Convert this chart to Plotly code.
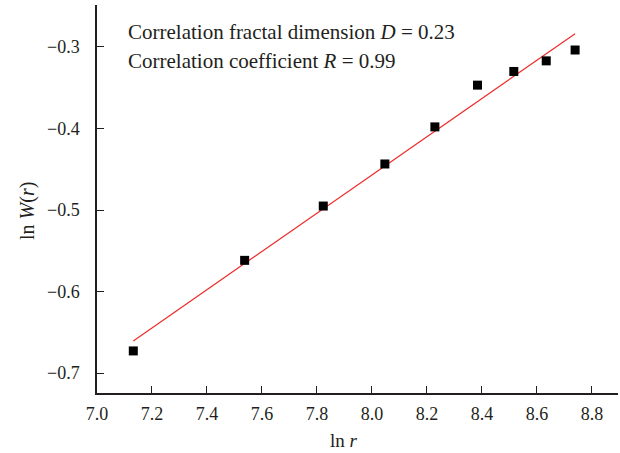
import numpy as np
import plotly.graph_objects as go

# ln r and ln W(r) samples
ln_r = [7.132, 7.537, 7.823, 8.047, 8.229, 8.384, 8.516, 8.634, 8.739]
ln_w = [-0.6728, -0.5617, -0.4951, -0.4435, -0.398, -0.3468, -0.330, -0.317, -0.3037]

x_ticks = [7.0, 7.2, 7.4, 7.6, 7.8, 8.0, 8.2, 8.4, 8.6, 8.8]
y_ticks = [-0.7, -0.6, -0.5, -0.4, -0.3]

# least-squares line through the samples
slope, intercept = np.polyfit(ln_r, ln_w, 1)
fit_x = [ln_r[0], ln_r[-1]]
fit_y = [slope * v + intercept for v in fit_x]

FONT = "Liberation Serif"
AX_COLOR = "#231f20"

fig = go.Figure()
fig.add_trace(go.Scatter(
    x=fit_x, y=fit_y, mode="lines",
    line=dict(color="#ee2b2b", width=1.2),
    showlegend=False, hoverinfo="skip",
))
fig.add_trace(go.Scatter(
    x=ln_r, y=ln_w, mode="markers",
    marker=dict(symbol="square", size=9, color="black"),
    showlegend=False,
))

axis_common = dict(
    showgrid=False, zeroline=False, showline=True,
    linecolor=AX_COLOR, linewidth=1.5,
    ticks="inside", ticklen=7, tickwidth=1.3, tickcolor=AX_COLOR,
    tickfont=dict(family=FONT, size=18, color=AX_COLOR),
)
fig.update_xaxes(
    range=[7.0, 8.895], tickvals=x_ticks,
    ticktext=[f"{v:.1f}" for v in x_ticks], ticklabelstandoff=4, **axis_common,
)
fig.update_yaxes(
    range=[-0.7244, -0.2485], tickvals=y_ticks,
    ticktext=[f"\u2212{abs(v):.1f}" for v in y_ticks], ticklabelstandoff=12,
    **axis_common,
)

annots = [
    dict(text="Correlation fractal dimension <i>D</i> = 0.23",
         x=126, y=453 - 32, xanchor="left", yanchor="middle", size=21),
    dict(text="Correlation coefficient <i>R</i> = 0.99",
         x=126, y=453 - 61, xanchor="left", yanchor="middle", size=21),
    dict(text="ln <i>r</i>", x=344, y=453 - 440, xanchor="center",
         yanchor="middle", size=19),
    dict(text="ln <i>W</i>(<i>r</i>)", x=27, y=453 - 211, xanchor="center",
         yanchor="middle", textangle=-90, size=20),
]
for a in annots:
    fig.add_annotation(
        xref="paper", yref="paper", showarrow=False,
        font=dict(family=FONT, size=a["size"], color=AX_COLOR),
        **{k: v for k, v in a.items() if k not in ("x", "y", "size")},
        x=(a["x"] - 97) / (618 - 97), y=(a["y"] - 60) / (448 - 60),
    )

fig.update_layout(
    width=620, height=453,
    margin=dict(l=97, r=2, t=5, b=60),
    paper_bgcolor="white", plot_bgcolor="white",
)
fig.write_html("out.html")
